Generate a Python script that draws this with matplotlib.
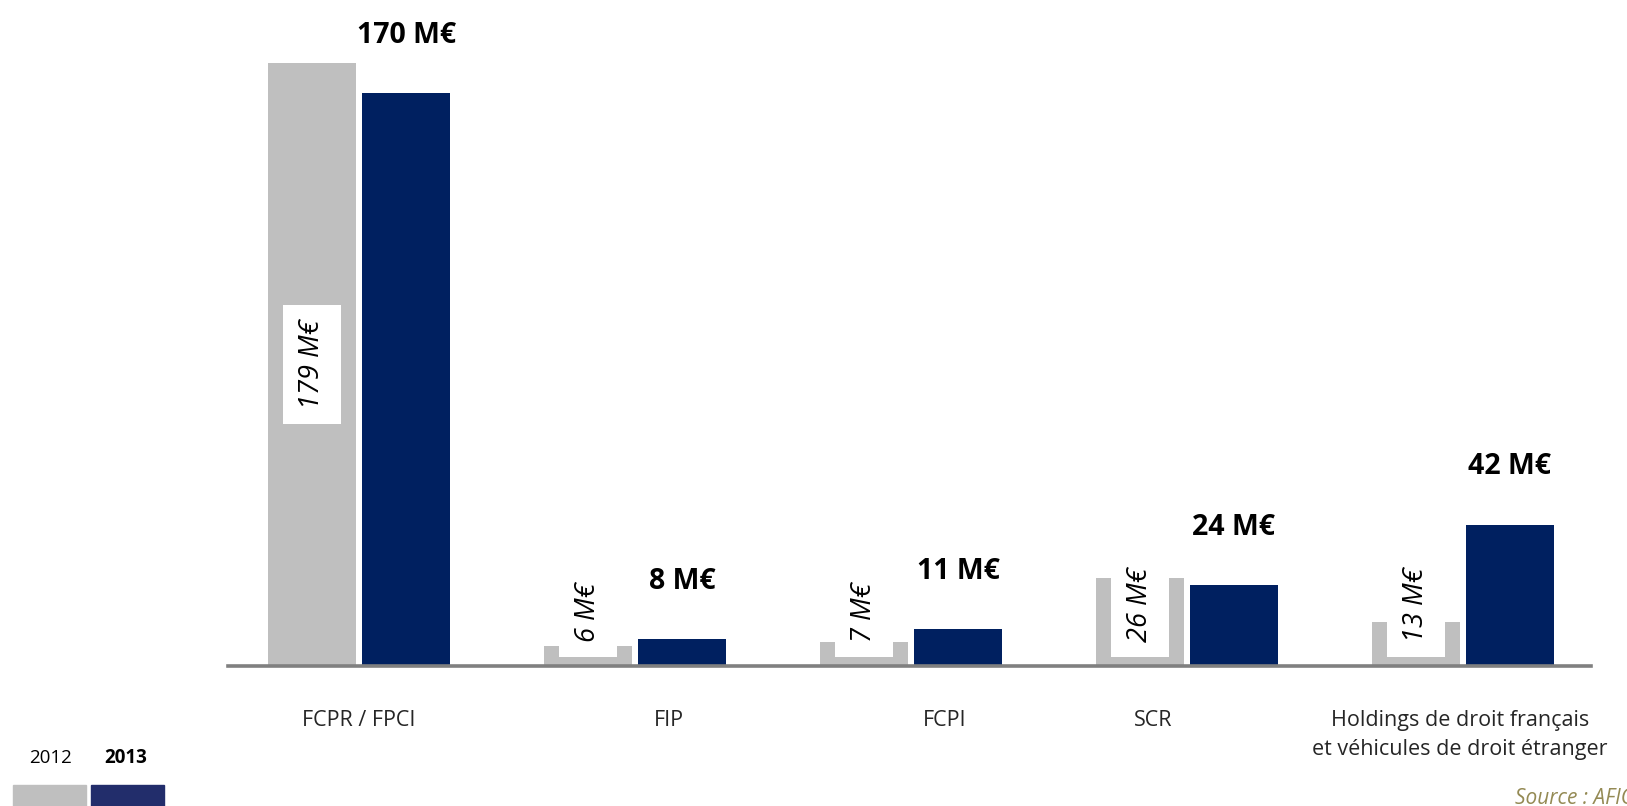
import numpy as np
import matplotlib
matplotlib.use("Agg")
import matplotlib.pyplot as plt
from matplotlib.patches import Rectangle

# data (M€)
categories = ["FCPR / FPCI", "FIP", "FCPI", "SCR",
              "Holdings de droit français\net véhicules de droit étranger"]
values_2012 = [179, 6, 7, 26, 13]
values_2013 = [170, 8, 11, 24, 42]
years = ["2012", "2013"]

grey = "#bfbfbf"
navy = "#002060"

plt.rcParams['font.family'] = ['Open Sans', 'DejaVu Sans']

fig = plt.figure(figsize=(16.27, 8.06), dpi=100)
ax = fig.add_axes([0.1401, 0.1737, 0.8377, 0.8263])

x = np.arange(len(categories))
w = 0.319
gap = 0.011

bars12 = ax.bar(x - w / 2 - gap, values_2012, width=w, color=grey, zorder=2)
bars13 = ax.bar(x + w / 2 + gap, values_2013, width=w, color=navy, zorder=2)

ax.set_xlim(-0.475, 4.464)
ax.set_ylim(0, 197.7)

# axis styling: only the bottom line
for side in ['top', 'right', 'left']:
    ax.spines[side].set_visible(False)
ax.spines['bottom'].set_color('#808080')
ax.spines['bottom'].set_linewidth(2.6)
ax.spines['bottom'].set_zorder(3)
ax.set_yticks([])
ax.set_xticks([])

# category labels (slightly shifted like in the original layout)
nudge_px = [0, 34, 34, -34, -3]
for xi, lab, dx in zip(x, categories, nudge_px):
    ax.annotate(lab, xy=(xi, 0), xytext=(dx * 0.72, -32),
                textcoords='offset points', ha='center', va='top',
                fontsize=15.5, color='#262626', linespacing=1.45)

# 2013 labels, bold above navy bars
for b, v in zip(bars13, values_2013):
    ax.annotate(f"{v} M€", xy=(b.get_x() + b.get_width() / 2, v),
                xytext=(0, 31), textcoords='offset points',
                ha='center', va='bottom', fontsize=20.5, fontweight='bold',
                color='black')

# 2012 labels, italic rotated in white boxes
box = dict(boxstyle='square,pad=0.55', facecolor='white', edgecolor='none')
for i, (b, v) in enumerate(zip(bars12, values_2012)):
    cx = b.get_x() + b.get_width() / 2
    if i == 0:
        ax.text(cx, v / 2, f"{v} M€", rotation=90, ha='center', va='center',
                fontsize=19.5, fontstyle='italic', color='black', bbox=box,
                zorder=4)
    else:
        ax.annotate(f"{v} M€", xy=(cx, 0), xytext=(0, 17),
                    textcoords='offset points', rotation=90,
                    ha='center', va='bottom', fontsize=19.5,
                    fontstyle='italic', color='black', bbox=box, zorder=4)

# legend in the bottom-left corner
fig.text(50 / 1627, 1 - 758 / 806, years[0], ha='center', va='center',
         fontsize=13.5, color='black')
fig.text(126 / 1627, 1 - 758 / 806, years[1], ha='center', va='center',
         fontsize=13.5, fontweight='bold', color='black')
fig.patches.append(Rectangle((13 / 1627, 0), 73 / 1627, 21 / 806,
                             transform=fig.transFigure, color=grey))
fig.patches.append(Rectangle((91 / 1627, 0), 73 / 1627, 21 / 806,
                             transform=fig.transFigure, color='#222d6b'))

fig.text(1515 / 1627, 1 - 798 / 806, "Source : AFIC", ha='left',
         va='center', fontsize=15, fontstyle='italic', color='#948a54')

plt.savefig('out.png', dpi=100)
